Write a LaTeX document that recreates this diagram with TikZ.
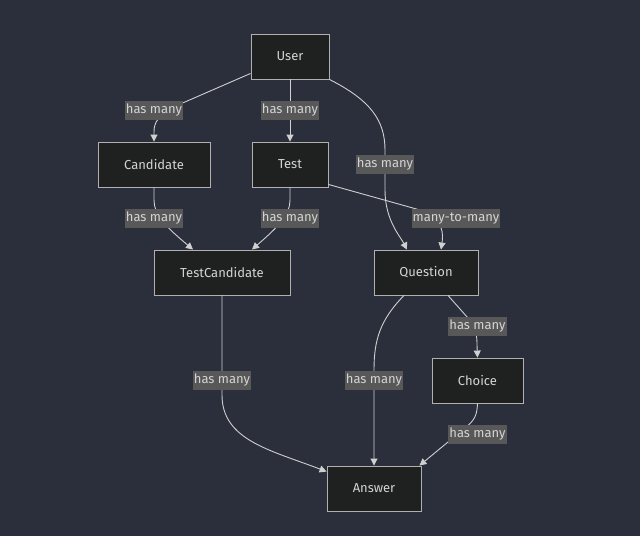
\documentclass[tikz,border=0pt]{standalone}
\usepackage{fontspec}
\setmainfont{Fira Sans}
\usetikzlibrary{arrows.meta,calc}
\definecolor{bgc}{HTML}{2A2F3B}
\definecolor{nodefill}{HTML}{1F2020}
\definecolor{nodeline}{HTML}{B0B0B0}
\definecolor{edgec}{HTML}{D0D0D0}
\definecolor{lblfill}{HTML}{585858}
\definecolor{txtc}{HTML}{D4D4D4}
\tikzset{
  ent/.style={draw=nodeline, fill=nodefill, line width=0.9pt, text=txtc, font=\fontsize{13}{16}\selectfont, minimum height=45pt, inner sep=0pt},
  lbl/.style={fill=lblfill, text=txtc, font=\fontsize{13}{16}\selectfont, inner sep=1pt, minimum height=19pt},
  edge/.style={draw=edgec, line width=0.9pt, -{Triangle[width=7pt,length=7pt]}},
}
\begin{document}
\begin{tikzpicture}[x=1pt,y=-1pt]
\fill[bgc] (0,0) rectangle (640,536);
\useasboundingbox (0,0) rectangle (640,536);
% nodes
\node[ent, minimum width=78pt] (user) at (290,56.5) {User};
\node[ent, minimum width=112pt] (cand) at (154,164.5) {Candidate};
\node[ent, minimum width=76pt] (test) at (290,164.5) {Test};
\node[ent, minimum width=136pt] (tc) at (222,272.5) {TestCandidate};
\node[ent, minimum width=104pt] (quest) at (426,272.5) {Question};
\node[ent, minimum width=91pt] (choice) at (477.5,380.5) {Choice};
\node[ent, minimum width=94pt] (ans) at (374,488.5) {Answer};
% edges
\draw[edge] ($(user.south west)+(0,-6)$) -- (178,105) .. controls (158,115) and (154,122) .. (154,132) -- (cand.north);
\draw[edge] (user.south) -- (test.north);
\draw[edge] (user.south east) .. controls (370,100) and (385,120) .. (385,150) -- (385,190) .. controls (385,220) and (400,236) .. ($(quest.north)+(-19,0)$);
\draw[edge] ($(test.south east)+(0,-3)$) -- (420,210) .. controls (445,218) and (443,236) .. ($(quest.north)+(15,0)$);
\draw[edge] (cand.south) -- (154,200) .. controls (154,215) and (165,226) .. ($(tc.north)+(-29,0)$);
\draw[edge] (test.south) -- (290,200) .. controls (290,215) and (279,226) .. ($(tc.north)+(30,0)$);
\draw[edge] (tc.south) -- (222,395) .. controls (222,440) and (270,450) .. ($(ans.north west)+(0,6)$);
\draw[edge] ($(quest.south)+(-22,0)$) .. controls (380,320) and (374,340) .. (374,370) -- (ans.north);
\draw[edge] ($(quest.south)+(22,0)$) -- (468,318) .. controls (476,328) and (477,335) .. (477,345) -- (choice.north);
\draw[edge] (choice.south) .. controls (477,415) and (475,420) .. (465,428) -- ($(ans.north east)+(-2,0)$);
% labels
\node[lbl] (l1) at (154,110.5) {has many};
\node[lbl] (l2) at (290,110.5) {has many};
\node[lbl] (l3) at (385,164.5) {has many};
\node[lbl] (l4) at (154,218.5) {has many};
\node[lbl] (l5) at (290,218.5) {has many};
\node[lbl] (l6) at (456,218.5) {many-to-many};
\node[lbl] (l7) at (222,380.5) {has many};
\node[lbl] (l8) at (374,380.5) {has many};
\node[lbl] (l9) at (477.5,326.5) {has many};
\node[lbl] (l10) at (477.5,434.5) {has many};
\end{tikzpicture}
\end{document}
